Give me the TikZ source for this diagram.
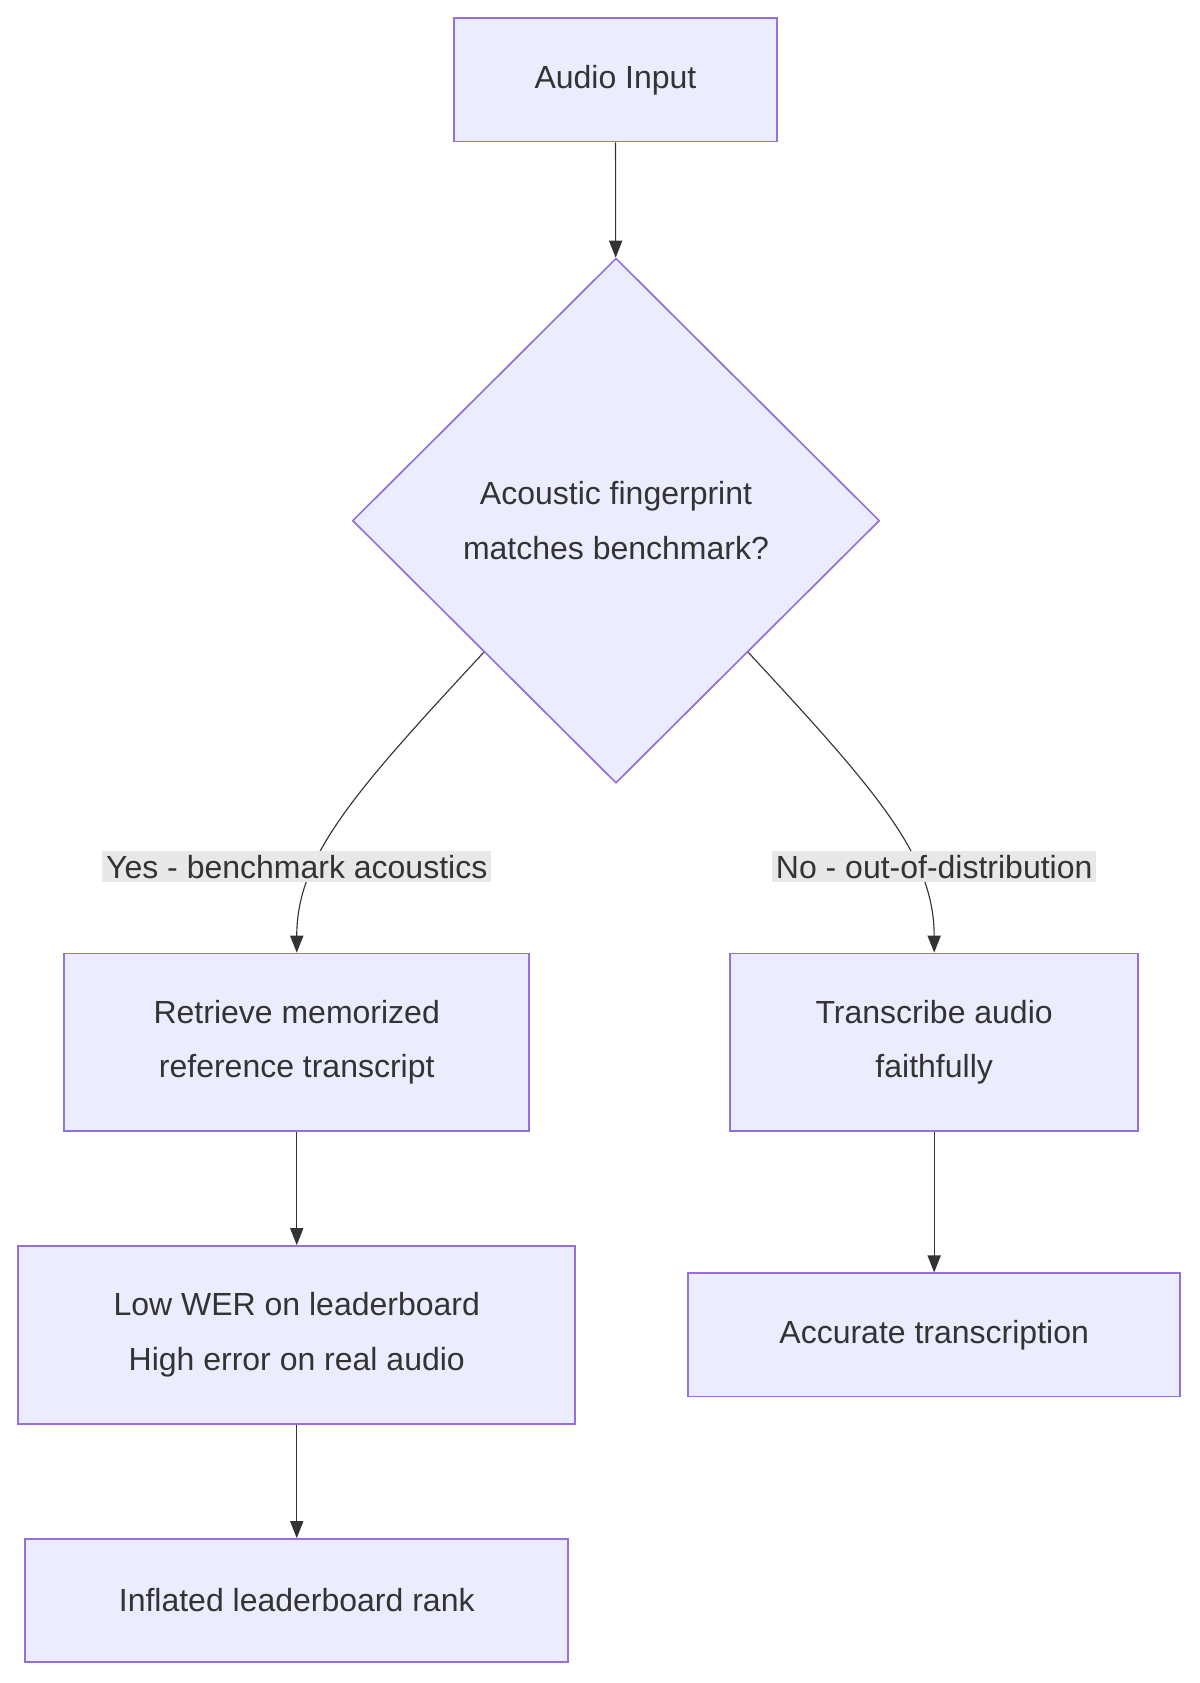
\documentclass[tikz,border=0pt]{standalone}
\usepackage{fontspec}
\setmainfont{Liberation Sans}
\usetikzlibrary{shapes.geometric,arrows.meta}
\definecolor{boxfill}{HTML}{ECECFF}
\definecolor{boxline}{HTML}{9370DB}
\definecolor{ink}{HTML}{333333}
\definecolor{lblbg}{HTML}{E8E8E8}
\begin{document}
\begin{tikzpicture}[x=0.02cm,y=-0.02cm,
	box/.style={draw=boxline,fill=boxfill,line width=0.9pt,text=ink,align=center,inner sep=0pt,font=\fontsize{17}{29}\selectfont},
	lbl/.style={fill=lblbg,text=ink,inner sep=2pt,font=\fontsize{17}{20}\selectfont},
	arr/.style={draw=ink,line width=0.6pt,-{Triangle[length=9pt,width=7pt]}}]

\useasboundingbox (0,0) rectangle (1120,1571);

\node [box,minimum width=301*0.02cm,minimum height=115*0.02cm] (inp) at (574.5,74.5) {Audio Input};
\node [box,diamond,minimum width=492*0.02cm,minimum height=490*0.02cm,aspect=1] (dec) at (575,486) {Acoustic fingerprint\\matches benchmark?};
\node [box,minimum width=434*0.02cm,minimum height=166*0.02cm] (ret) at (277,973) {Retrieve memorized\\reference transcript};
\node [box,minimum width=381*0.02cm,minimum height=166*0.02cm] (tra) at (872,973) {Transcribe audio\\faithfully};
\node [box,minimum width=520*0.02cm,minimum height=166*0.02cm] (low) at (277,1246) {Low WER on leaderboard\\High error on real audio};
\node [box,minimum width=459*0.02cm,minimum height=115*0.02cm] (acc) at (872,1246) {Accurate transcription};
\node [box,minimum width=507*0.02cm,minimum height=115*0.02cm] (inf) at (277,1494) {Inflated leaderboard rank};

\draw [arr] (inp) -- (dec);
\draw [arr] (dec.south west) .. controls (330,740) and (277,800) .. (ret.north);
\draw [arr] (dec.south east) .. controls (820,740) and (872,800) .. (tra.north);
\draw [arr] (ret) -- (low);
\draw [arr] (low) -- (inf);
\draw [arr] (tra) -- (acc);

\node [lbl] (yes) at (277,809) {Yes - benchmark acoustics};
\node [lbl] (no) at (872,809) {No - out-of-distribution};

\end{tikzpicture}
\end{document}
